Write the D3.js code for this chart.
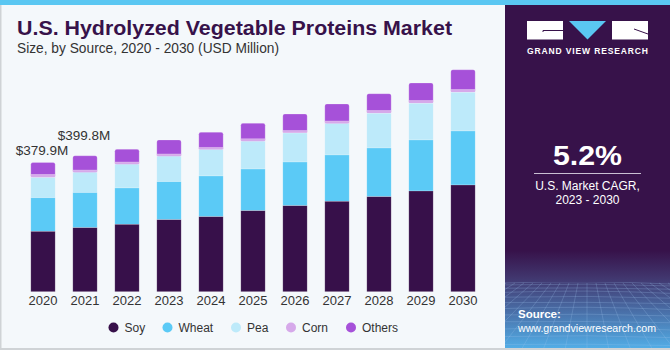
<!DOCTYPE html>
<html>
<head>
<meta charset="utf-8">
<script src="https://cdn.jsdelivr.net/npm/d3@7"></script>
<style>
    html, body { margin: 0; padding: 0; background: #f4f8fb; }
    svg { display: block; font-family: "Liberation Sans", Arial, sans-serif; }
</style>
</head>
<body>
<svg id="SVGchart" width="670" height="350"></svg>
<script>
// years on the x axis
const years = ["2020", "2021", "2022", "2023", "2024", "2025", "2026", "2027", "2028", "2029", "2030"];
// sources, stacked bottom -> top
const sources = ["Soy", "Wheat", "Pea", "Corn", "Others"];
// values per source (USD Million)
const soy    = [177.5, 188.3, 198.2, 211.8, 220.6, 238.2, 252.9, 265.9, 279.4, 296.2, 313.8];
const wheat  = [ 98.8, 103.2, 106.8, 111.8, 119.7, 122.6, 128.5, 136.2, 143.2, 150.0, 158.8];
const pea    = [ 59.2,  59.4,  69.7,  74.7,  77.4,  81.5,  85.3,  92.1, 102.1, 107.9, 113.8];
const corn   = [  9.8,   7.0,   6.8,   6.8,   7.1,   7.6,   7.9,   7.9,   8.8,   8.8,   8.8];
const others = [ 34.6,  41.9,  37.4,  41.2,  44.1,  45.3,  47.9,  50.0,  48.8,  50.9,  57.6];
// value labels shown above the first two bars
const totalLabels = ["$379.9M", "$399.8M"];

const colors = ["#37104a", "#5bcaf6", "#bdeafa", "#d6a9ea", "#a651d9"];

const svg = d3.select("#SVGchart");
const W = 670, H = 350;

/* ---------- background, borders ---------- */
svg.append("rect").attr("width", W).attr("height", H).attr("fill", "#f4f8fb");
svg.append("rect").attr("x", 0).attr("y", 0).attr("width", 1.5).attr("height", H).attr("fill", "#cfd3d6");
svg.append("rect").attr("x", 0).attr("y", H - 2).attr("width", W).attr("height", 2).attr("fill", "#cfd3d6");

/* ---------- right panel ---------- */
const defs = svg.append("defs");
const grad = defs.append("linearGradient").attr("id", "panelGrad")
    .attr("x1", 0).attr("y1", 0).attr("x2", 0).attr("y2", 1);
grad.append("stop").attr("offset", "0%").attr("stop-color", "#37124a");
grad.append("stop").attr("offset", "72%").attr("stop-color", "#37124a");
grad.append("stop").attr("offset", "80%").attr("stop-color", "#41376f");
grad.append("stop").attr("offset", "100%").attr("stop-color", "#52ade6");

const panel = svg.append("g");
panel.append("rect").attr("x", 505).attr("y", 0).attr("width", W - 505).attr("height", H - 2)
    .attr("fill", "url(#panelGrad)");

// wireframe floor in the bottom of the panel
defs.append("clipPath").attr("id", "floorClip")
    .append("rect").attr("x", 505).attr("y", 282).attr("width", W - 505).attr("height", 66);
const floor = panel.append("g").attr("clip-path", "url(#floorClip)")
    .attr("stroke", "#9fc7ee").attr("stroke-opacity", 0.35).attr("stroke-width", 0.7).attr("fill", "none");
d3.range(0, 14).forEach(i => {
    const y = 283 + Math.pow(i, 1.45) * 1.9;
    floor.append("path").attr("d", `M505,${y} Q587,${y - 3 + (i % 3)} 670,${y + 1}`);
});
d3.range(-14, 15).forEach(i => {
    floor.append("line")
        .attr("x1", 587 + i * 9).attr("y1", 283)
        .attr("x2", 587 + i * 22).attr("y2", 350);
});

// top stripe
svg.append("rect").attr("x", 0).attr("y", 0).attr("width", W).attr("height", 5).attr("fill", "#5ac7f2");

// logo
const logo = panel.append("g");
logo.append("rect").attr("x", 527).attr("y", 21).attr("width", 36).attr("height", 18.5).attr("fill", "#fff");
logo.append("path").attr("d", "M543,32 L543,30.5 L563,30.5").attr("stroke", "#37124a").attr("stroke-width", 1).attr("fill", "none");
logo.append("path").attr("d", "M569,21 L606,21 L587.5,39.5 Z").attr("fill", "#5ac7f2");
logo.append("rect").attr("x", 612).attr("y", 21).attr("width", 36).attr("height", 18.5).attr("fill", "#fff");
logo.append("path").attr("d", "M634,29 L648,34").attr("stroke", "#37124a").attr("stroke-width", 1);
logo.append("text").attr("x", 587.5).attr("y", 53.5).attr("text-anchor", "middle")
    .attr("fill", "#fff").attr("font-size", 8.5).attr("font-weight", "bold")
    .attr("textLength", 121).attr("lengthAdjust", "spacing")
    .text("GRAND VIEW RESEARCH");

// CAGR block
panel.append("text").attr("x", 587.5).attr("y", 165).attr("text-anchor", "middle")
    .attr("fill", "#fff").attr("font-size", 27).attr("font-weight", "bold")
    .attr("textLength", 69).attr("lengthAdjust", "spacingAndGlyphs")
    .text("5.2%");
panel.append("line").attr("x1", 534).attr("x2", 641).attr("y1", 173.5).attr("y2", 173.5)
    .attr("stroke", "#c9bfd3").attr("stroke-width", 1);
panel.append("text").attr("x", 587.5).attr("y", 190).attr("text-anchor", "middle")
    .attr("fill", "#fff").attr("font-size", 12).text("U.S. Market CAGR,");
panel.append("text").attr("x", 587.5).attr("y", 204).attr("text-anchor", "middle")
    .attr("fill", "#fff").attr("font-size", 12).text("2023 - 2030");

// source
panel.append("text").attr("x", 518).attr("y", 318)
    .attr("fill", "#fff").attr("font-size", 11.5).attr("font-weight", "bold").text("Source:");
panel.append("text").attr("x", 518).attr("y", 332)
    .attr("fill", "#fff").attr("font-size", 11).attr("textLength", 138).attr("lengthAdjust", "spacingAndGlyphs")
    .text("www.grandviewresearch.com");

/* ---------- titles ---------- */
svg.append("text").attr("x", 17).attr("y", 35)
    .attr("fill", "#37124a").attr("font-size", 20).attr("font-weight", "bold")
    .attr("textLength", 435).attr("lengthAdjust", "spacingAndGlyphs")
    .text("U.S. Hydrolyzed Vegetable Proteins Market");
svg.append("text").attr("x", 17).attr("y", 53)
    .attr("fill", "#333").attr("font-size", 14)
    .attr("textLength", 262).attr("lengthAdjust", "spacingAndGlyphs")
    .text("Size, by Source, 2020 - 2030 (USD Million)");

/* ---------- stacked bars ---------- */
const table = years.map((year, i) => ({
    year: year, Soy: soy[i], Wheat: wheat[i], Pea: pea[i], Corn: corn[i], Others: others[i]
}));
const stack = d3.stack().keys(sources)(table);

const scaleX = d3.scaleBand().domain(years).range([22, 484])
    .paddingInner(0.42).paddingOuter(0.21);
const scaleY = d3.scaleLinear().domain([0, 650]).range([291.7, 291.7 - 650 * 0.34]);

const bars = svg.append("g");
// draw top segment first (rounded, extended down), lower segments over it
stack.slice().reverse().forEach(layer => {
    const k = sources.indexOf(layer.key);
    const isTop = k === sources.length - 1;
    bars.append("g").attr("fill", colors[k])
        .selectAll("rect").data(layer).join("rect")
        .attr("x", d => scaleX(d.data.year))
        .attr("width", scaleX.bandwidth())
        .attr("y", d => scaleY(d[1]))
        .attr("height", d => scaleY(d[0]) - scaleY(d[1]) + (isTop ? 3 : 0))
        .attr("rx", isTop ? 2 : 0)
        .attr("stroke", "#ffffff").attr("stroke-opacity", 0.35).attr("stroke-width", 0.6);
});

// total labels on the first bars
const labelOffset = [8, 16];
svg.append("g").selectAll("text").data(totalLabels).join("text")
    .attr("x", (d, i) => scaleX(years[i]) + scaleX.bandwidth() / 2 - 1)
    .attr("y", (d, i) => scaleY(stack[stack.length - 1][i][1]) - labelOffset[i])
    .attr("text-anchor", "middle")
    .attr("fill", "#333").attr("font-size", 13.5)
    .text(d => d);

// x axis (no line, no ticks)
const axis = svg.append("g").attr("transform", "translate(0,293)")
    .call(d3.axisBottom(scaleX).tickSize(0).tickPadding(3));
axis.select(".domain").remove();
axis.selectAll("text").attr("fill", "#333").attr("font-size", 13)
    .attr("font-family", "Liberation Sans, Arial, sans-serif");

/* ---------- legend ---------- */
const legendX = [113.5, 167.5, 236, 291, 351];
const legend = svg.append("g").selectAll("g").data(sources).join("g")
    .attr("transform", (d, i) => `translate(${legendX[i]},327.5)`);
legend.append("circle").attr("r", 5).attr("fill", (d, i) => colors[i]);
legend.append("text").attr("x", 11).attr("y", 4.2)
    .attr("fill", "#333").attr("font-size", 12).text(d => d);
</script>
</body>
</html>
